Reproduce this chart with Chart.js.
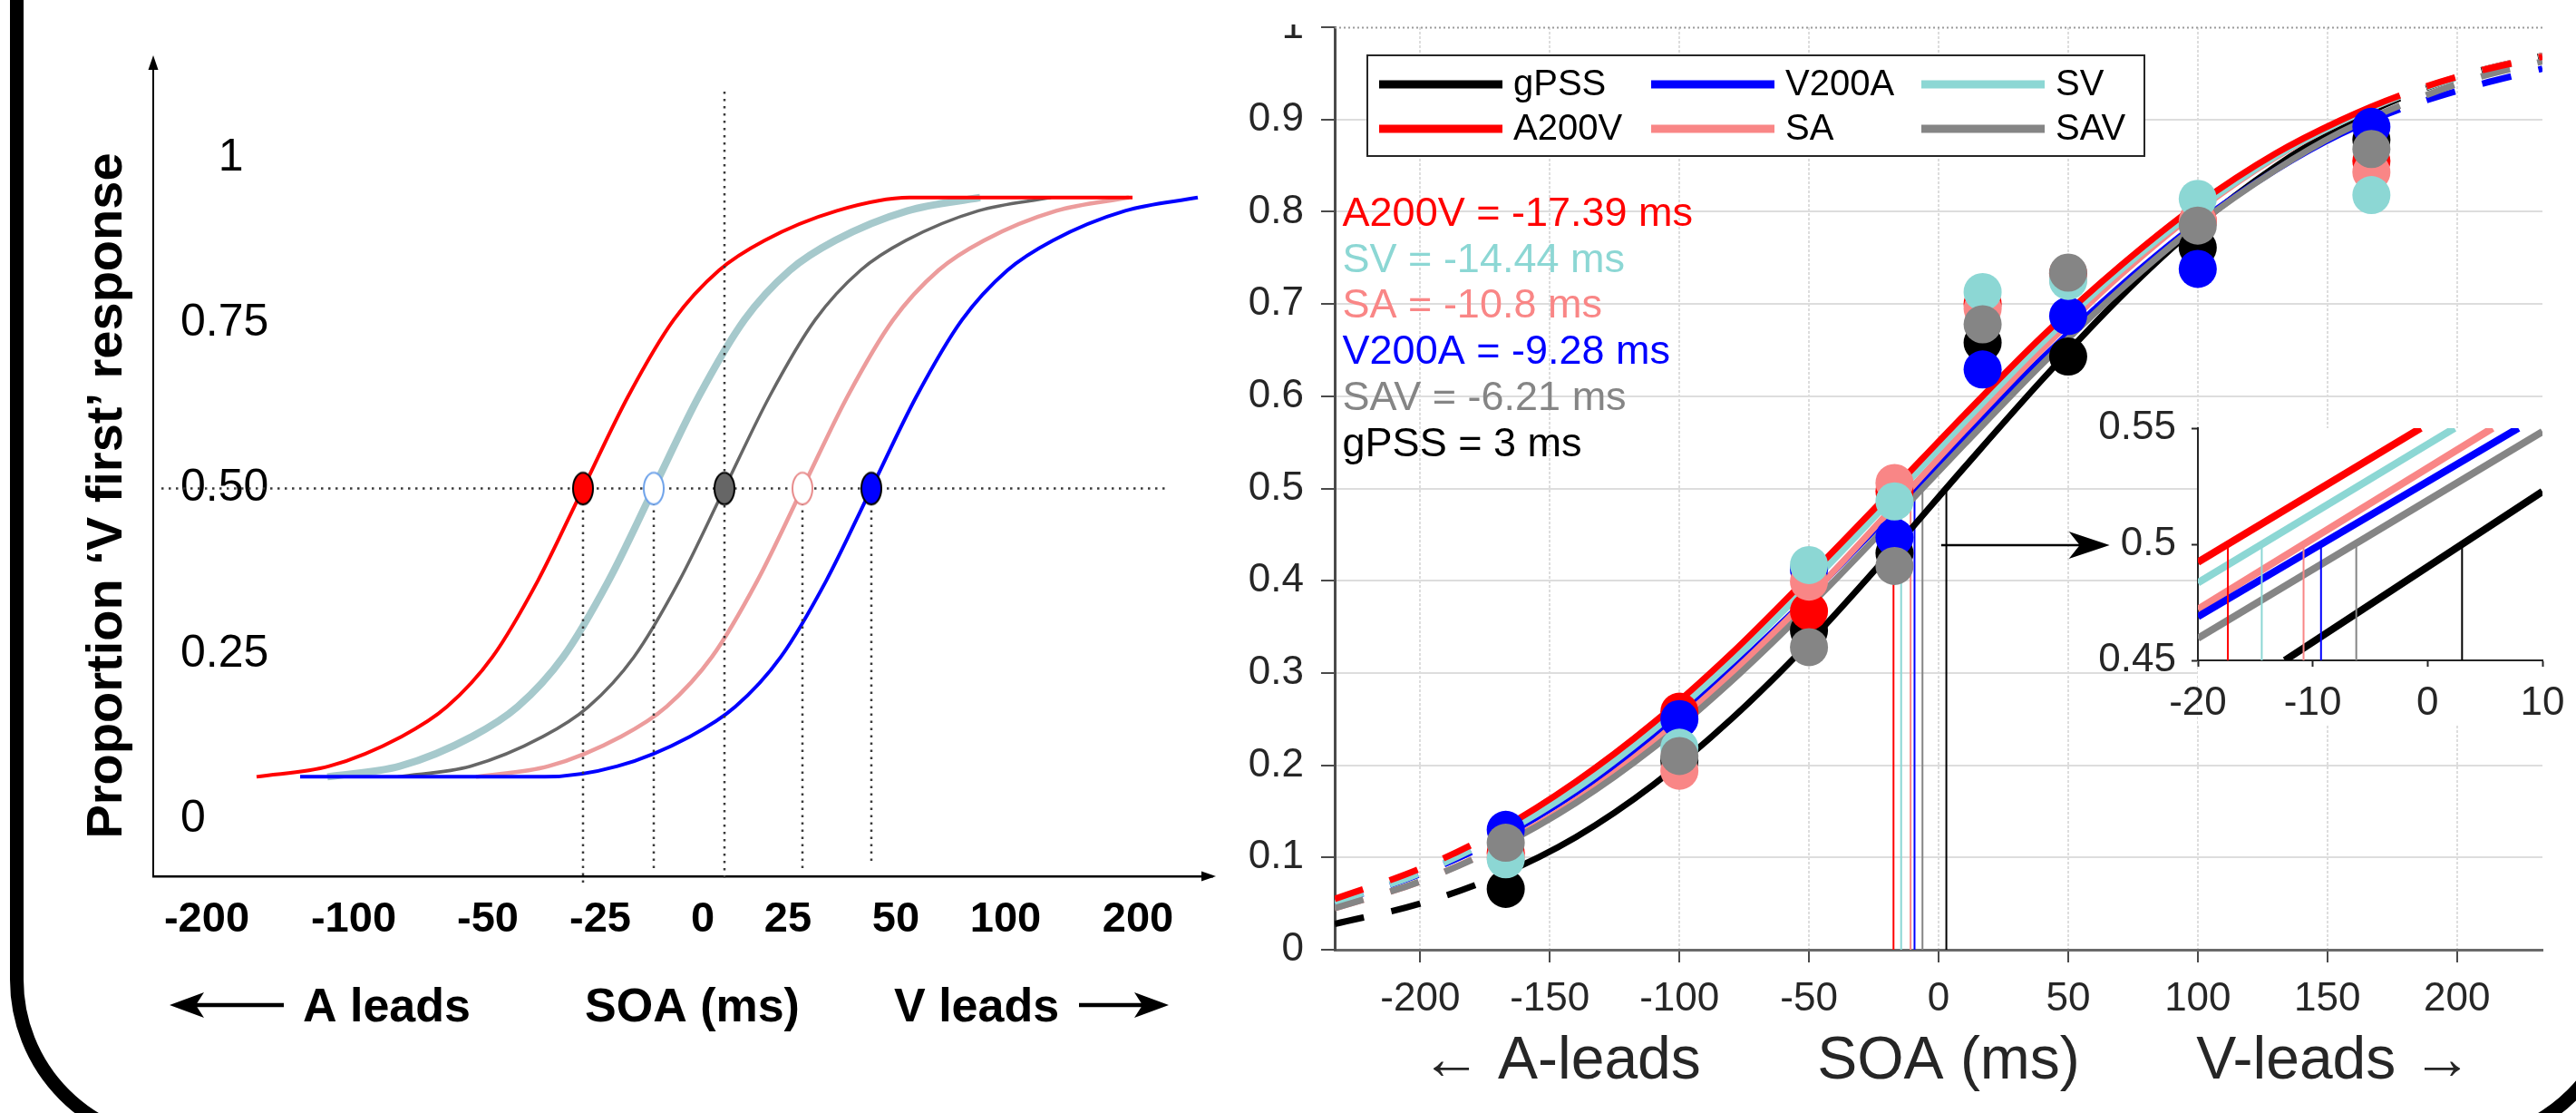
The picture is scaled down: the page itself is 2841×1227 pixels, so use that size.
<!DOCTYPE html>
<html>
<head>
<meta charset="utf-8">
<script src="https://cdn.jsdelivr.net/npm/chart.js@4.4.1/dist/chart.umd.min.js"></script>
<style>
  html, body { margin:0; padding:0; background:#fff; width:2841px; height:1227px; overflow:hidden; }
  canvas { position:absolute; }
  #frame { position:absolute; left:11px; top:-200px; width:2886px; height:1467px; box-sizing:border-box;
           border:15px solid #000; border-radius:187px; pointer-events:none; }
  #cover1 { position:absolute; left:1405px; top:0; width:70px; height:27px; background:#fff; }
</style>
</head>
<body>
<div id="frame"></div>
<canvas id="cL" width="1400" height="1227" style="left:0;top:0"></canvas>
<canvas id="cR" width="1501" height="1227" style="left:1340px;top:0"></canvas>
<canvas id="cI" width="601" height="400" style="left:2240px;top:430px"></canvas>
<div id="cover1"></div>
<script>
// ====================== DATA ======================
// ---- Left panel (schematic; x in schematic units along the SOA axis) ----
const leftXTickPos    = [0.59, 2.21, 3.69, 4.93, 6.06, 7.00, 8.19, 9.40, 10.86];
const leftXTickLabels = ['-200', '-100', '-50', '-25', '0', '25', '50', '100', '200'];
const leftYTickVals   = [0, 0.25, 0.5, 0.75, 1];
const leftYTickLabels = ['0', '0.25', '0.50', '0.75', '   1'];
const leftCurveY = [0.064, 0.080, 0.125, 0.170, 0.245, 0.36, 0.5, 0.64, 0.755, 0.83, 0.875, 0.92, 0.94];
const leftRedX   = [1.14, 1.94, 2.74, 3.24, 3.74, 4.24, 4.74, 5.24, 5.74, 6.24, 6.74, 7.54, 8.34, 10.80];
const leftRedY   = [0.064, 0.080, 0.125, 0.170, 0.245, 0.36, 0.5, 0.64, 0.755, 0.83, 0.875, 0.92, 0.94, 0.94];
const leftCyanX  = [1.92, 2.72, 3.52, 4.02, 4.52, 5.02, 5.52, 6.02, 6.52, 7.02, 7.52, 8.32, 9.12];
const leftGreyX  = [2.70, 3.50, 4.30, 4.80, 5.30, 5.80, 6.30, 6.80, 7.30, 7.80, 8.30, 9.10, 9.90];
const leftPinkX  = [3.56, 4.36, 5.16, 5.66, 6.16, 6.66, 7.16, 7.66, 8.16, 8.66, 9.16, 9.96, 10.76];
const leftBlueX  = [1.62, 4.32, 5.12, 5.92, 6.42, 6.92, 7.42, 7.92, 8.42, 8.92, 9.42, 9.92, 10.72, 11.52];
const leftBlueY  = [0.064, 0.064, 0.080, 0.125, 0.170, 0.245, 0.36, 0.5, 0.64, 0.755, 0.83, 0.875, 0.92, 0.94];
const leftMarkX  = [4.74, 5.52, 6.30, 7.16, 7.92];          // 50% points: red, cyan, grey, pink, blue
const leftMarkTop = [0.5, 0.5, 1.1, 0.5, 0.5];              // upper end of the dotted drop lines
const leftMarkBottom = [-0.1, -0.08, -0.09, -0.077, -0.067]; // lower end of the dotted drop lines
const leftHalfLine = { x0: 0.09, x1: 11.18, y: 0.5 };

// ---- Right panel ----
const seriesNames = ['gPSS', 'A200V', 'V200A', 'SA', 'SV', 'SAV'];
const pssMs       = [3, -17.39, -9.28, -10.8, -14.44, -6.21];
const rightXTicks = [-200, -150, -100, -50, 0, 50, 100, 150, 200];
const rightYTicks = [0, 0.1, 0.2, 0.3, 0.4, 0.5, 0.6, 0.7, 0.8, 0.9, 1];
const rightYTickLabels = ['0', '0.1', '0.2', '0.3', '0.4', '0.5', '0.6', '0.7', '0.8', '0.9', '1'];

const soaX = [-167, -100, -50, -17, 17, 50, 100, 167];
const obs_gPSS  = [0.066, 0.205, 0.346, 0.430, 0.658, 0.643, 0.761, 0.878];
const obs_A200V = [0.105, 0.258, 0.367, 0.497, 0.700, 0.733, 0.790, 0.855];
const obs_V200A = [0.130, 0.250, 0.412, 0.447, 0.629, 0.687, 0.738, 0.892];
const obs_SA    = [0.100, 0.194, 0.399, 0.506, 0.695, 0.727, 0.790, 0.843];
const obs_SV    = [0.098, 0.219, 0.417, 0.486, 0.713, 0.725, 0.814, 0.818];
const obs_SAV   = [0.116, 0.210, 0.328, 0.416, 0.678, 0.734, 0.785, 0.868];

const fitX = [-233, -200, -170, -140, -110, -80, -50, -20, 10, 40, 70, 100, 130, 155, 178, 205, 233];
const fit_gPSS  = [0.028, 0.050, 0.080, 0.122, 0.179, 0.250, 0.333, 0.426, 0.523, 0.618, 0.707, 0.785, 0.849, 0.892, 0.923, 0.950, 0.969];
const fit_A200V = [0.055, 0.088, 0.129, 0.182, 0.246, 0.321, 0.405, 0.492, 0.580, 0.665, 0.741, 0.808, 0.863, 0.899, 0.926, 0.950, 0.968];
const fit_V200A = [0.051, 0.082, 0.120, 0.170, 0.231, 0.303, 0.383, 0.469, 0.556, 0.641, 0.719, 0.788, 0.845, 0.884, 0.911, 0.935, 0.955];
const fit_SA    = [0.045, 0.074, 0.112, 0.162, 0.225, 0.299, 0.382, 0.472, 0.563, 0.651, 0.731, 0.801, 0.859, 0.897, 0.925, 0.950, 0.969];
const fit_SV    = [0.051, 0.083, 0.123, 0.174, 0.238, 0.312, 0.395, 0.483, 0.572, 0.658, 0.736, 0.803, 0.860, 0.897, 0.925, 0.949, 0.968];
const fit_SAV   = [0.045, 0.074, 0.111, 0.159, 0.219, 0.291, 0.372, 0.459, 0.548, 0.635, 0.715, 0.786, 0.845, 0.886, 0.915, 0.943, 0.963];

// ---- Inset (zoom around 50 %) ----
const insetXTicks = [-20, -10, 0, 10];
const insetYTicks = [0.45, 0.5, 0.55];
const insetYTickLabels = ['0.45', '0.5', '0.55'];
const inset_gPSS_X  = [-12.43, 10],  inset_gPSS_Y  = [0.45, 0.5227];
const inset_A200V_X = [-20, -0.6],   inset_A200V_Y = [0.4923, 0.55];
const inset_V200A_X = [-20, 7.9],    inset_V200A_Y = [0.4688, 0.55];
const inset_SA_X    = [-20, 5.65],   inset_SA_Y    = [0.472, 0.55];
const inset_SV_X    = [-20, 2.34],   inset_SV_Y    = [0.4834, 0.55];
const inset_SAV_X   = [-20, 10],     inset_SAV_Y   = [0.4595, 0.5485];

// ====================== STYLE / LAYOUT ======================
const FONT = "'Liberation Sans', Arial, Helvetica, sans-serif";
const INK = '#262626';
Chart.defaults.font.family = FONT;
const COLORS = { gPSS:'#000000', A200V:'#ff0000', V200A:'#0000ff', SA:'#f98686', SV:'#8cd7d4', SAV:'#858585' };
const LEFTC = { red:'#ff0000', cyan:'#a6c9cc', grey:'#666666', pink:'#ec9c9c', blue:'#0000ff' };
const zoomArrow = { from: 1, to: 66, level: 0.4385 };
const annot = { x: -230, y0: 0.785, dy: 0.05 };

const fitY   = { gPSS:fit_gPSS, A200V:fit_A200V, V200A:fit_V200A, SA:fit_SA, SV:fit_SV, SAV:fit_SAV };
const obsY   = { gPSS:obs_gPSS, A200V:obs_A200V, V200A:obs_V200A, SA:obs_SA, SV:obs_SV, SAV:obs_SAV };
const insetX = { gPSS:inset_gPSS_X, A200V:inset_A200V_X, V200A:inset_V200A_X, SA:inset_SA_X, SV:inset_SV_X, SAV:inset_SAV_X };
const insetY = { gPSS:inset_gPSS_Y, A200V:inset_A200V_Y, V200A:inset_V200A_Y, SA:inset_SA_Y, SV:inset_SV_Y, SAV:inset_SAV_Y };

function pts(xs, ys) { return xs.map((x, i) => ({ x: x, y: ys[i] })); }
function fixBox(w, h) {
  return function (s) {
    if (w != null) s.width = w;
    if (h != null) s.height = h;
    s.paddingTop = 0; s.paddingBottom = 0; s.paddingLeft = 0; s.paddingRight = 0;
  };
}
function setTicks(vals) { return function (s) { s.ticks = vals.map(v => ({ value: v })); }; }
function ellipseMark(fill, stroke) {
  const c = document.createElement('canvas'); c.width = 26; c.height = 40;
  const g = c.getContext('2d');
  g.beginPath(); g.ellipse(13, 20, 11, 17.5, 0, 0, Math.PI * 2);
  g.fillStyle = fill; g.fill(); g.lineWidth = 2; g.strokeStyle = stroke; g.stroke();
  return c;
}
function arrowHead(ctx, tipX, tipY, dir, len, half, notch) {
  ctx.beginPath();
  ctx.moveTo(tipX, tipY);
  ctx.lineTo(tipX - dir * len, tipY - half);
  ctx.lineTo(tipX - dir * (len - notch), tipY);
  ctx.lineTo(tipX - dir * len, tipY + half);
  ctx.closePath(); ctx.fill();
}
const baseOpts = { responsive:false, animation:false, devicePixelRatio:1, events:[] };

// ====================== LEFT CHART ======================
const leftDecor = {
  id: 'leftDecor',
  afterDraw(chart) {
    const { ctx, chartArea: a } = chart;
    ctx.save();
    ctx.fillStyle = '#000'; ctx.strokeStyle = '#000';
    // axis arrowheads
    ctx.beginPath(); ctx.moveTo(a.left, a.top - 6); ctx.lineTo(a.left - 5.5, a.top + 10); ctx.lineTo(a.left + 5.5, a.top + 10); ctx.closePath(); ctx.fill();
    ctx.beginPath(); ctx.moveTo(a.right + 4, a.bottom); ctx.lineTo(a.right - 12, a.bottom - 5.5); ctx.lineTo(a.right - 12, a.bottom + 5.5); ctx.closePath(); ctx.fill();
    // y title
    ctx.save();
    ctx.translate(a.left - 50, (a.top + a.bottom) / 2 + 30);
    ctx.rotate(-Math.PI / 2);
    ctx.font = 'bold 56px ' + FONT; ctx.textAlign = 'center'; ctx.textBaseline = 'middle';
    ctx.fillText('Proportion \u2018V first\u2019 response', 0, 0);
    ctx.restore();
    // x title pieces
    ctx.font = 'bold 52px ' + FONT; ctx.textAlign = 'left'; ctx.textBaseline = 'alphabetic';
    const by = a.bottom + 160;
    ctx.fillText('A leads', a.left + 165, by);
    ctx.fillText('SOA (ms)', a.left + 476, by);
    ctx.fillText('V leads', a.left + 817, by);
    const ay = a.bottom + 142;
    ctx.lineWidth = 4.5;
    ctx.beginPath(); ctx.moveTo(a.left + 40, ay); ctx.lineTo(a.left + 144, ay); ctx.stroke();
    arrowHead(ctx, a.left + 18, ay, -1, 38, 14, 9);
    ctx.beginPath(); ctx.moveTo(a.left + 1021, ay); ctx.lineTo(a.left + 1098, ay); ctx.stroke();
    arrowHead(ctx, a.left + 1120, ay, 1, 38, 14, 9);
    ctx.restore();
  }
};

const guideStyle = { borderColor:'#3a3a3a', borderWidth:2.5, borderDash:[2.5, 5.5], pointRadius:0, fill:false, clip:false };
const leftDatasets = [];
function leftCurve(xs, ys, color, w, order) {
  leftDatasets.push({ data: pts(xs, ys), borderColor: color, borderWidth: w, pointRadius: 0,
    cubicInterpolationMode: 'monotone', fill: false, order: order, borderCapStyle: 'butt' });
}
leftCurve(leftCyanX, leftCurveY, LEFTC.cyan, 8, 6);
leftCurve(leftGreyX, leftCurveY, LEFTC.grey, 3.5, 5);
leftCurve(leftPinkX, leftCurveY, LEFTC.pink, 4.5, 4);
leftCurve(leftRedX, leftRedY, LEFTC.red, 4, 3);
leftCurve(leftBlueX, leftBlueY, LEFTC.blue, 4, 2);
leftDatasets.push(Object.assign({ data: [{ x: leftHalfLine.x0, y: leftHalfLine.y }, { x: leftHalfLine.x1, y: leftHalfLine.y }], order: 1 }, guideStyle));
leftMarkX.forEach((mx, i) => {
  leftDatasets.push(Object.assign({ data: [{ x: mx, y: leftMarkTop[i] }, { x: mx, y: leftMarkBottom[i] }], order: 1 }, guideStyle));
});
const leftMarkStyles = [ellipseMark('#ff0000', '#000'), ellipseMark('#ffffff', '#6fa3ea'), ellipseMark('#666666', '#000'),
                        ellipseMark('#ffffff', '#e88c8c'), ellipseMark('#0000ff', '#000')];
leftMarkX.forEach((mx, i) => {
  leftDatasets.push({ data: [{ x: mx, y: 0.5 }], showLine: false, pointRadius: 12, pointStyle: leftMarkStyles[i], order: 0 });
});

new Chart(document.getElementById('cL'), {
  type: 'line',
  data: { datasets: leftDatasets },
  options: Object.assign({}, baseOpts, {
    layout: { padding: { left: 159, top: 67, right: 63, bottom: 0 } },
    plugins: { legend: { display: false }, tooltip: { enabled: false } },
    scales: {
      x: { type: 'linear', min: 0, max: 11.68, afterBuildTicks: setTicks(leftXTickPos), afterFit: fixBox(null, 261),
           grid: { display: true, drawOnChartArea: false, drawTicks: false },
           border: { display: true, color: '#000', width: 2.5 },
           ticks: { autoSkip: false, maxRotation: 0, padding: 20, color: '#000', font: { size: 47, weight: 'bold' },
                    callback: (v, i) => leftXTickLabels[i] } },
      y: { type: 'linear', min: -0.0864, max: 1.1468, afterBuildTicks: setTicks(leftYTickVals), afterFit: fixBox(10, null),
           grid: { display: true, drawOnChartArea: false, drawTicks: false },
           border: { display: true, color: '#000', width: 2 },
           ticks: { mirror: true, padding: 30, color: '#000', font: { size: 50 }, callback: (v, i) => leftYTickLabels[i] } }
    }
  }),
  plugins: [leftDecor]
});

// ====================== RIGHT CHART ======================
const rightDecor = {
  id: 'rightDecor',
  afterDraw(chart) {
    const { ctx, chartArea: a, scales: { x, y } } = chart;
    ctx.save();
    // dotted top edge
    ctx.strokeStyle = '#9b9b9b'; ctx.lineWidth = 2; ctx.setLineDash([2, 3]);
    ctx.beginPath(); ctx.moveTo(a.left, a.top + 0.5); ctx.lineTo(a.right, a.top + 0.5); ctx.stroke();
    ctx.setLineDash([]);
    // arrow pointing to inset
    const ax0 = x.getPixelForValue(zoomArrow.from), ax1 = x.getPixelForValue(zoomArrow.to), ay = y.getPixelForValue(zoomArrow.level);
    ctx.strokeStyle = '#000'; ctx.fillStyle = '#000'; ctx.lineWidth = 2.5;
    ctx.beginPath(); ctx.moveTo(ax0, ay); ctx.lineTo(ax1 - 30, ay); ctx.stroke();
    arrowHead(ctx, ax1, ay, 1, 45, 15, 12);
    // PSS annotations
    const order = seriesNames.map((n, i) => ({ n: n, v: pssMs[i] })).sort((p, q) => p.v - q.v);
    ctx.font = '45px ' + FONT; ctx.textAlign = 'left'; ctx.textBaseline = 'alphabetic';
    order.forEach((o, i) => {
      ctx.fillStyle = COLORS[o.n];
      ctx.fillText(o.n + ' = ' + o.v + ' ms', x.getPixelForValue(annot.x), y.getPixelForValue(annot.y0 - i * annot.dy));
    });
    // legend box
    const bx = a.left + 36, byy = a.top + 31, bw = 857, bh = 111;
    ctx.fillStyle = '#fff'; ctx.fillRect(bx, byy, bw, bh);
    ctx.strokeStyle = INK; ctx.lineWidth = 2; ctx.strokeRect(bx, byy, bw, bh);
    const colX = [13, 313, 611], rowY = [32, 81];
    ctx.font = '40px ' + FONT; ctx.textBaseline = 'middle';
    seriesNames.forEach((n, i) => {
      const lx = bx + colX[Math.floor(i / 2)], ly = byy + rowY[i % 2];
      ctx.strokeStyle = COLORS[n]; ctx.lineWidth = 9;
      ctx.beginPath(); ctx.moveTo(lx, ly); ctx.lineTo(lx + 136, ly); ctx.stroke();
      ctx.fillStyle = '#000'; ctx.fillText(n, lx + 148, ly + 1);
    });
    ctx.restore();
  }
};

const scatterOrder = { SAV: 0, SV: 1, SA: 2, V200A: 3, A200V: 4, gPSS: 5 };
const curveOrder   = { A200V: 10, SAV: 11, SV: 12, SA: 13, V200A: 14, gPSS: 15 };
const rightDatasets = [];
seriesNames.forEach((n, i) => {
  rightDatasets.push({ data: [{ x: pssMs[i], y: 0 }, { x: pssMs[i], y: 0.5 }], borderColor: COLORS[n], borderWidth: 2,
    pointRadius: 0, order: 20 + i });
  rightDatasets.push({ label: n, data: pts(fitX, fitY[n]), borderColor: COLORS[n], borderWidth: 7, pointRadius: 0,
    cubicInterpolationMode: 'monotone', borderCapStyle: 'butt', order: curveOrder[n],
    segment: {
      borderDash: c => (c.p1.parsed.x <= -170 || c.p0.parsed.x >= 178) ? [33, 31] : undefined,
      borderDashOffset: c => (c.p0.parsed.x >= 178) ? 33 : 0
    } });
  rightDatasets.push({ data: pts(soaX, obsY[n]), showLine: false, pointRadius: 21, pointBorderWidth: 0,
    pointBackgroundColor: COLORS[n], pointBorderColor: COLORS[n], order: scatterOrder[n] });
});

new Chart(document.getElementById('cR'), {
  type: 'line',
  data: { datasets: rightDatasets },
  options: Object.assign({}, baseOpts, {
    layout: { padding: { left: 0, top: 30, right: 37, bottom: 0 } },
    plugins: { legend: { display: false }, tooltip: { enabled: false } },
    scales: {
      x: { type: 'linear', min: -233, max: 233, afterBuildTicks: setTicks(rightXTicks), afterFit: fixBox(null, 180),
           grid: { color: '#dddddd', lineWidth: 2, tickLength: 14, tickColor: '#4a4a4a', tickWidth: 2 },
           border: { display: true, color: '#6a6a6a', width: 3, dash: [3, 2] },
           ticks: { autoSkip: false, maxRotation: 0, padding: 14, color: INK, font: { size: 44 } },
           title: { display: true, text: ' \u2190 A-leads       SOA (ms)       V-leads \u2192', color: INK,
                    font: { size: 66 }, padding: { top: 0, bottom: 17 } } },
      y: { type: 'linear', min: 0, max: 1, afterBuildTicks: setTicks(rightYTicks), afterFit: fixBox(132, null),
           grid: { color: c => (c.tick && c.tick.value === 1) ? 'rgba(0,0,0,0)' : '#dddddd', lineWidth: 2,
                   tickLength: 15, tickColor: '#4a4a4a', tickWidth: 2 },
           border: { display: true, color: '#4a4a4a', width: 3 },
           ticks: { padding: 19, color: INK, font: { size: 44 }, callback: (v, i) => rightYTickLabels[i] } }
    }
  }),
  plugins: [rightDecor]
});

// ====================== INSET ======================
const insetBg = {
  id: 'insetBg',
  beforeDraw(chart) {
    const { ctx, chartArea: a } = chart;
    ctx.save(); ctx.fillStyle = '#fff';
    ctx.fillRect(a.left, a.top, a.right - a.left + 2, a.bottom - a.top + 70);
    ctx.restore();
  }
};
const insetOrder = { gPSS: 10, SAV: 11, V200A: 12, SA: 13, SV: 14, A200V: 15 };
const insetDatasets = [];
seriesNames.forEach((n, i) => {
  insetDatasets.push({ data: [{ x: pssMs[i], y: 0.45 }, { x: pssMs[i], y: 0.5 }], borderColor: COLORS[n], borderWidth: 2,
    pointRadius: 0, order: i });
  insetDatasets.push({ data: pts(insetX[n], insetY[n]), borderColor: COLORS[n], borderWidth: 8, pointRadius: 0,
    borderCapStyle: 'butt', order: insetOrder[n] });
});
new Chart(document.getElementById('cI'), {
  type: 'line',
  data: { datasets: insetDatasets },
  options: Object.assign({}, baseOpts, {
    layout: { padding: { left: 0, top: 42, right: 37, bottom: 0 } },
    plugins: { legend: { display: false }, tooltip: { enabled: false } },
    scales: {
      x: { type: 'linear', min: -20, max: 10, afterBuildTicks: setTicks(insetXTicks), afterFit: fixBox(null, 102),
           grid: { display: true, drawOnChartArea: false, tickLength: 7, tickColor: INK, tickWidth: 2 },
           border: { display: true, color: INK, width: 2 },
           ticks: { autoSkip: false, maxRotation: 0, padding: 14, color: INK, font: { size: 44 } } },
      y: { type: 'linear', min: 0.45, max: 0.55, afterBuildTicks: setTicks(insetYTicks), afterFit: fixBox(184, null),
           grid: { display: true, drawOnChartArea: false, tickLength: 7, tickColor: INK, tickWidth: 2 },
           border: { display: true, color: INK, width: 2 },
           ticks: { padding: 17, color: INK, font: { size: 44 }, callback: (v, i) => insetYTickLabels[i] } }
    }
  }),
  plugins: [insetBg]
});
</script>
</body>
</html>
